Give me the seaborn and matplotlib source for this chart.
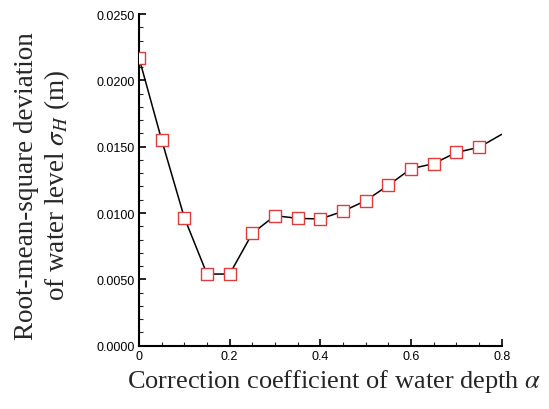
import numpy as np
import pandas as pd
import matplotlib
matplotlib.use('Agg')
import matplotlib.pyplot as plt
import seaborn as sns
from matplotlib.ticker import MultipleLocator, FormatStrFormatter

# Werte
alpha = [0.0, 0.05, 0.10, 0.15, 0.20, 0.25, 0.30, 0.35, 0.40, 0.45, 0.50, 0.55, 0.60, 0.65, 0.70, 0.75, 0.80]
sigma_h = [0.0217, 0.0155, 0.00965, 0.0054, 0.0054, 0.00847, 0.0098, 0.0096, 0.00955, 0.01013, 0.01093,
           0.01209, 0.01334, 0.01372, 0.01457, 0.01495, 0.01593]
# letzter Punkt (0.8) nur Linie, ohne Marker
n_marker = 16

data = pd.DataFrame({'alpha': alpha, 'sigma': sigma_h})

sns.set_style('ticks')
plt.rcParams['font.family'] = ['Liberation Sans', 'DejaVu Sans']
plt.rcParams['mathtext.fontset'] = 'stix'

fig = plt.figure(figsize=(5.49, 4.10), dpi=100)
ax = fig.add_axes([0.2532, 0.1544, 0.6606, 0.8090])

sns.lineplot(x='alpha', y='sigma', data=data, ax=ax, color='black', linewidth=1.1)
sns.scatterplot(x='alpha', y='sigma', data=data.iloc[:n_marker], ax=ax, marker='s', s=72,
                facecolor='white', edgecolor='#e03c3c', linewidth=1.0, zorder=3)

ax.set_xlim(0, 0.8)
ax.set_ylim(0, 0.025)
ax.xaxis.set_major_locator(MultipleLocator(0.2))
ax.xaxis.set_minor_locator(MultipleLocator(0.05))
ax.yaxis.set_major_locator(MultipleLocator(0.005))
ax.yaxis.set_minor_locator(MultipleLocator(0.001))
ax.yaxis.set_major_formatter(FormatStrFormatter('%.4f'))
ax.set_xticks([0, 0.2, 0.4, 0.6, 0.8])
ax.set_xticklabels(['0', '0.2', '0.4', '0.6', '0.8'])

ax.tick_params(axis='both', which='major', direction='in', length=5, width=1.2, labelsize=9, colors='black')
ax.tick_params(axis='both', which='minor', direction='in', length=3, width=0.8)
ax.tick_params(axis='y', pad=3)
ax.tick_params(axis='x', pad=3)

sns.despine(ax=ax)
for s in ['left', 'bottom']:
    ax.spines[s].set_linewidth(1.5)
    ax.spines[s].set_color('black')

ax.set_xlabel(r'Correction coefficient of water depth $\alpha$', family='Liberation Serif',
              fontsize=19, va='center')
ax.xaxis.set_label_coords(0.538, -0.106)
ax.set_ylabel('Root-mean-square deviation\n' + r'of water level $\sigma_H$ (m)', family='Liberation Serif',
              fontsize=19.5, linespacing=1.15, va='center')
ax.yaxis.set_label_coords(-0.265, 0.4845)

fig.savefig('out.png', dpi=100)
